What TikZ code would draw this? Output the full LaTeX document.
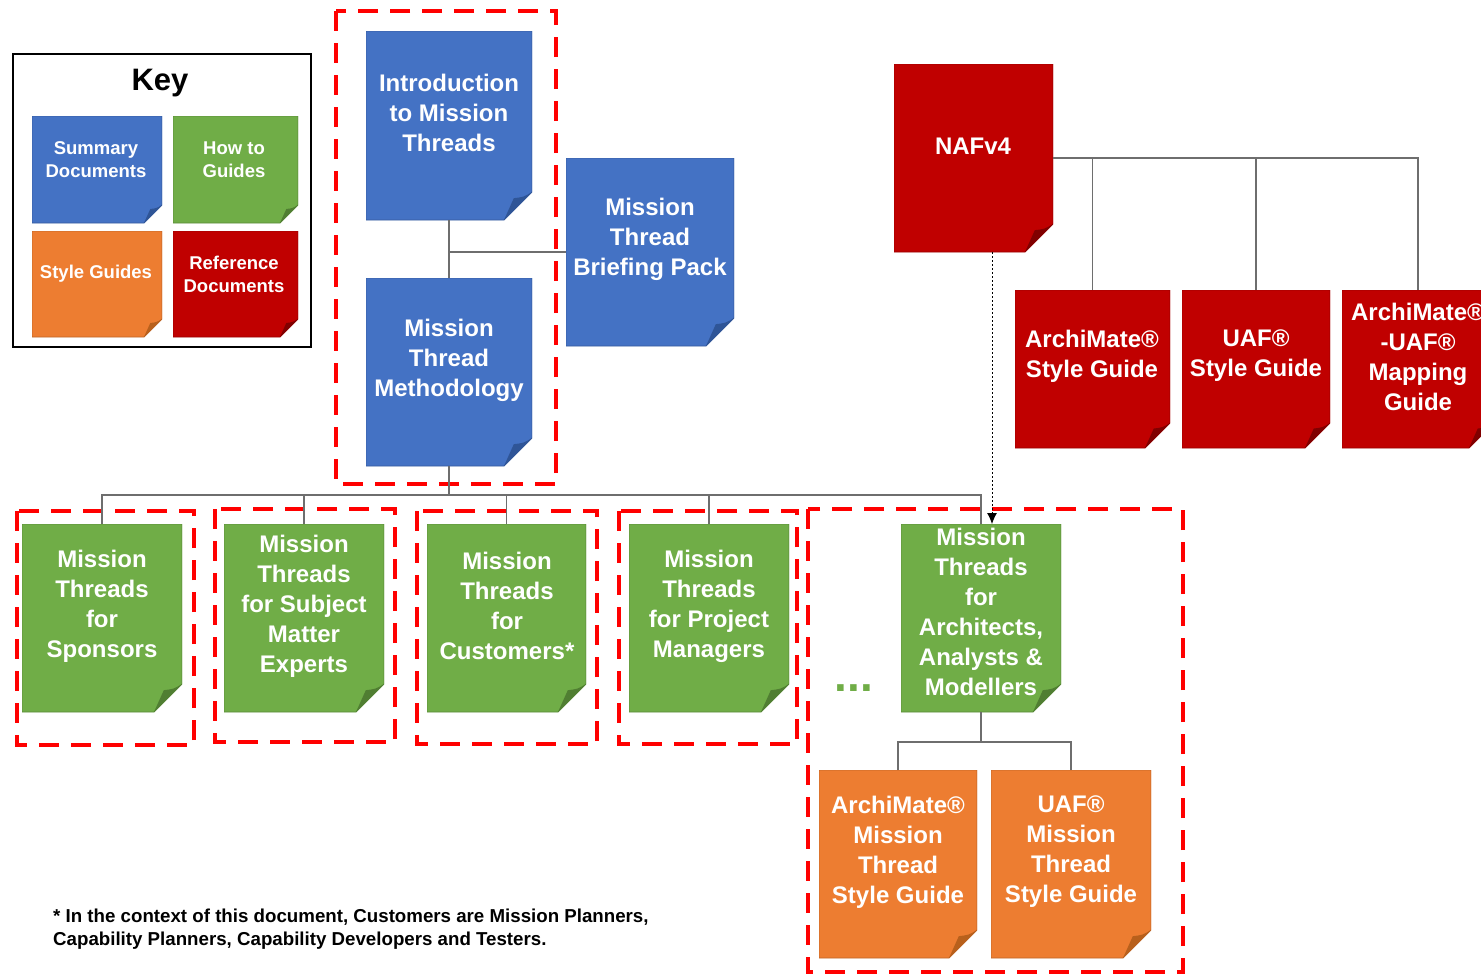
\documentclass[tikz,border=0pt]{standalone}
\usepackage{fontspec}
\setmainfont{Liberation Sans}
\usetikzlibrary{calc,arrows.meta}
\definecolor{cblue}{HTML}{4472C4}
\definecolor{cbluef}{HTML}{2F5597}
\definecolor{cgreen}{HTML}{70AD47}
\definecolor{cgreenf}{HTML}{507E32}
\definecolor{corange}{HTML}{ED7D31}
\definecolor{corangef}{HTML}{B8601C}
\definecolor{cred}{HTML}{C00000}
\definecolor{credf}{HTML}{800000}
\definecolor{cdash}{HTML}{FF0000}
\definecolor{cline}{HTML}{6E6E6E}
\tikzset{
  doc/.style n args={3}{rectangle, inner sep=0pt, outer sep=0pt,
    path picture={
      \coordinate (pnw) at (path picture bounding box.north west);
      \coordinate (pse) at (path picture bounding box.south east);
      \filldraw[fill=#1, draw=#1!80!black, line width=0.8pt]
        (pnw) -| ($(pse)+(0pt,#3)$) -- ($(pse)+(-#3,0pt)$) -| cycle;
      \fill[#2] ($(pse)+(0pt,#3)$) .. controls ($(pse)+(-0.3*#3,0.82*#3)$) .. ($(pse)+(-0.65*#3,0.78*#3)$)
        -- ($(pse)+(-#3,0pt)$) -- cycle;
    }},
  txt/.style={text=white, font=\bfseries\fontsize{24}{30}\selectfont, align=center, inner sep=0pt},
  ktxt/.style={text=white, font=\bfseries\fontsize{18.5}{23}\selectfont, align=center, inner sep=0pt},
  conn/.style={draw=cline, line width=1.3pt},
  grp/.style={draw=cdash, line width=4pt, dash pattern=on 20pt off 12pt},
}
\begin{document}
\begin{tikzpicture}[x=1pt,y=-1pt]
\useasboundingbox (0,0) rectangle (1481,975);
\clip (0,0) rectangle (1481,975);

% Key
\draw[line width=2pt] (13,54) rectangle (311,347);
\node[font=\bfseries\fontsize{31}{36}\selectfont, inner sep=0pt] (keyt) at (160,83) {Key};
\node[doc={cblue}{cbluef}{18pt}, minimum width=130pt, minimum height=107pt] (kb) at (97,169.5) {};
\node[doc={cgreen}{cgreenf}{18pt}, minimum width=125pt, minimum height=107pt] (kg) at (235.5,169.5) {};
\node[doc={corange}{corangef}{18pt}, minimum width=130pt, minimum height=106pt] (ko) at (97,284) {};
\node[doc={cred}{credf}{18pt}, minimum width=125pt, minimum height=106pt] (kr) at (235.5,284) {};
\node[ktxt] (kbt) at (96,159.5) {Summary\\Documents};
\node[ktxt] (kgt) at (234,159.5) {How to\\Guides};
\node[ktxt] (kot) at (96,274) {Style Guides};
\node[ktxt] (krt) at (234,274.5) {Reference\\Documents};

% Dashed groups
\draw[grp] (336,11) rectangle (556,484);
\draw[grp] (17,511) rectangle (194,745);
\draw[grp] (215,509) rectangle (395,742);
\draw[grp] (417,511) rectangle (597,744);
\draw[grp] (619,511) rectangle (797,744);
\draw[grp] (808,509) rectangle (1183,972);

% Summary documents
\node[doc={cblue}{cbluef}{28pt}, minimum width=166pt, minimum height=189pt] (intro) at (449,125.5) {};
\node[txt] (introt) at (449,113) {Introduction\\to Mission\\Threads};
\node[doc={cblue}{cbluef}{28pt}, minimum width=166pt, minimum height=188pt] (meth) at (449,372) {};
\node[txt] (metht) at (449,360) {Mission\\Thread\\Methodology};
\node[doc={cblue}{cbluef}{28pt}, minimum width=168pt, minimum height=188pt] (brief) at (650,252) {};
\node[txt] (brieft) at (650,239) {Mission\\Thread\\Briefing Pack};

% Reference documents
\node[doc={cred}{credf}{28pt}, minimum width=159pt, minimum height=188pt] (naf) at (973.5,158) {};
\node[txt] (naft) at (973,146) {NAFv4};
\node[doc={cred}{credf}{25pt}, minimum width=155pt, minimum height=158pt] (am) at (1092.5,369) {};
\node[txt] (amt) at (1092,356) {ArchiMate®\\Style Guide};
\node[doc={cred}{credf}{25pt}, minimum width=148pt, minimum height=158pt] (uaf) at (1256,369) {};
\node[txt] (uaft) at (1256,356) {UAF®\\Style Guide};
\node[doc={cred}{credf}{25pt}, minimum width=152pt, minimum height=158pt] (map) at (1418,369) {};
\node[txt] (mapt) at (1418,357) {ArchiMate®\\-UAF®\\Mapping\\Guide};

% How-to guides
\node[doc={cgreen}{cgreenf}{28pt}, minimum width=160pt, minimum height=188pt] (spons) at (102,618) {};
\node[txt] (sponst) at (102,606) {Mission\\Threads\\for\\Sponsors};
\node[doc={cgreen}{cgreenf}{28pt}, minimum width=160pt, minimum height=188pt] (sme) at (304,618) {};
\node[txt] (smet) at (304,606) {Mission\\Threads\\for Subject\\Matter\\Experts};
\node[doc={cgreen}{cgreenf}{28pt}, minimum width=159pt, minimum height=188pt] (cust) at (506.5,618) {};
\node[txt] (custt) at (507,606) {Mission\\Threads\\for\\Customers*};
\node[doc={cgreen}{cgreenf}{28pt}, minimum width=160pt, minimum height=188pt] (pm) at (709,618) {};
\node[txt] (pmt) at (709,606) {Mission\\Threads\\for Project\\Managers};
\node[doc={cgreen}{cgreenf}{28pt}, minimum width=160pt, minimum height=188pt] (arch) at (981,618) {};
\node[txt] (archt) at (981,612) {Mission\\Threads\\for\\Architects,\\Analysts \&\\Modellers};
\node[text=cgreen, font=\bfseries\fontsize{46}{50}\selectfont, inner sep=0pt] (dots) at (854,688) {...};

% Style guides
\node[doc={corange}{corangef}{28pt}, minimum width=158pt, minimum height=188pt] (amsg) at (898,864) {};
\node[txt] (amsgt) at (898,852) {ArchiMate®\\Mission\\Thread\\Style Guide};
\node[doc={corange}{corangef}{28pt}, minimum width=160pt, minimum height=188pt] (uafsg) at (1071,864) {};
\node[txt] (uafsgt) at (1071,852) {UAF®\\Mission\\Thread\\Style Guide};

% Connectors
\draw[conn] (intro.south) -- (meth.north);
\draw[conn] (brief.west) -- (brief.west -| intro.south);
\draw[conn] (naf.east) -| (map.north);
\draw[conn] (naf.east -| am.north) -- (am.north);
\draw[conn] (naf.east -| uaf.north) -- (uaf.north);
\coordinate (bus) at (449,495);
\draw[conn] (meth.south) -- (bus);
\draw[conn] (spons.north) |- (bus) -| (arch.north);
\draw[conn] (sme.north) -- (sme.north |- bus);
\draw[conn] (cust.north) -- (cust.north |- bus);
\draw[conn] (pm.north) -- (pm.north |- bus);
\coordinate (bus2) at (981,742);
\draw[conn] (arch.south) -- (bus2);
\draw[conn] (amsg.north) |- (bus2) -| (uafsg.north);
\draw[black, line width=0.9pt, dash pattern=on 2pt off 2pt, -{Latex[length=11pt,width=10pt]}]
  ([xshift=18.5pt]naf.south) -- ([xshift=11pt]arch.north);

% Footnote
\node[anchor=north west, inner sep=0pt] (fn) at (53,906) {\bfseries\fontsize{18.7}{23}\selectfont
  \begin{tabular}{@{}l@{}}* In the context of this document, Customers are Mission Planners,\\
  Capability Planners, Capability Developers and Testers.\end{tabular}};
\end{tikzpicture}
\end{document}
